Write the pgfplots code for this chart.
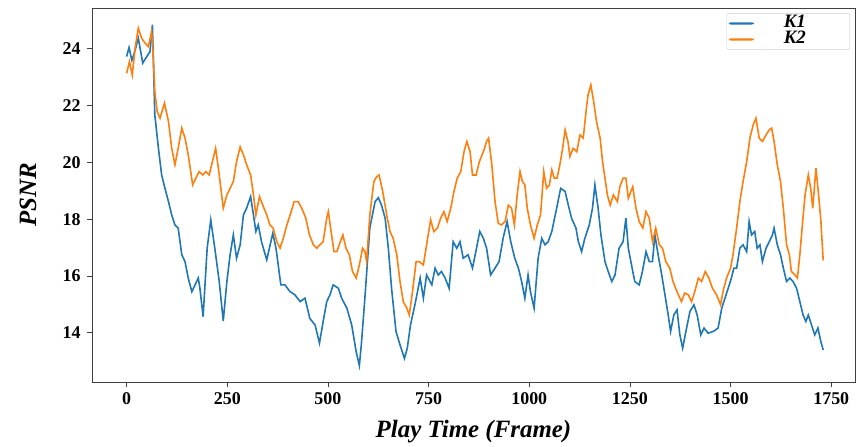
\documentclass[border=0pt]{standalone}
\usepackage{fontspec}
\setmainfont{Liberation Serif}
\usepackage{pgfplots}
\pgfplotsset{compat=1.18}
\definecolor{tabblue}{HTML}{1F77B4}
\definecolor{taborange}{HTML}{FF7F0E}
\begin{document}
\begin{tikzpicture}
\begin{axis}[name=ax, scale only axis, width=763bp, height=374bp,
  xmin=-86, xmax=1809, ymin=12.27, ymax=25.44,
  xtick={0,250,...,1750}, ytick={14,16,...,24},
  tick align=outside, tick pos=left, major tick length=5bp,
  tick style={black!75, line width=0.8bp},
  axis line style={black!75, line width=0.8bp},
  /pgf/number format/assume math mode=true,
  /pgf/number format/1000 sep={},
  ticklabel style={font=\bfseries\fontsize{18}{18}\selectfont},
  xticklabel style={yshift=-2bp},
  yticklabel style={xshift=-3bp},
  xlabel={\textbf{\textit{Play Time (Frame)}}},
  xlabel style={font=\fontsize{25}{25}\selectfont, at={(rel axis cs:0.5,0)}, anchor=center, yshift=-50bp},
  ylabel={\textbf{\textit{PSNR}}},
  ylabel style={font=\fontsize{25}{25}\selectfont, at={(rel axis cs:0,0.5)}, anchor=center, yshift=64bp},
  legend style={at={(rel axis cs:0.9935,0.986)}, anchor=north east, draw=black!20, rounded corners=2bp,
    fill=white, inner sep=2bp, font=\bfseries\itshape\fontsize{19}{19}\selectfont,
    nodes={inner sep=2bp, text height=10bp, text depth=2bp}},
  legend image code/.code={\fill[#1, draw=none] (0bp,-1.1bp) rectangle (25bp,1.1bp);},
  legend cell align=left,
]
\addplot[tabblue, line width=1.6bp] coordinates {
(0,23.73)(6,24.05)(13,23.6)(20,23.9)(29,24.38)(40,23.5)(50,23.73)(58,23.9)(64,24.85)(70,21.68)(79,20.5)(87,19.56)(95,19.1)(104,18.62)(112,18.15)(120,17.8)(128,17.69)(137,16.75)(145,16.51)(153,15.93)(162,15.45)(170,15.69)(178,15.93)(182,15.57)(190,14.57)(200,16.98)(209,17.98)(219,16.98)(230,15.81)(240,14.42)(249,15.81)(257,16.75)(265,17.45)(273,16.63)(282,17.1)(290,18.15)(298,18.39)(308,18.8)(315,18.15)(321,17.57)(327,17.8)(335,17.21)(348,16.57)(363,17.51)(371,16.98)(383,15.69)(393,15.69)(406,15.45)(418,15.34)(431,15.1)(443,15.22)(455,14.51)(468,14.28)(479,13.64)(488,14.4)(497,15.1)(505,15.34)(513,15.69)(526,15.57)(534,15.22)(547,14.87)(559,14.28)(570,13.34)(578,12.85)(583,13.6)(592,15.28)(604,17.69)(617,18.62)(625,18.76)(633,18.5)(642,18.04)(650,16.98)(658,15.57)(669,14.05)(679,13.58)(690,13.1)(697,13.46)(705,14.28)(716,14.99)(729,15.93)(737,15.22)(745,16.04)(758,15.69)(766,16.28)(774,16.04)(782,16.16)(791,15.93)(801,15.57)(811,17.21)(820,16.98)(828,17.21)(836,16.63)(848,16.75)(859,16.28)(869,16.98)(877,17.57)(886,17.33)(894,16.98)(904,16.04)(915,16.28)(925,16.51)(935,17.33)(945,17.92)(954,17.21)(964,16.63)(973,16.28)(981,15.81)(989,15.22)(997,16.04)(1003,15.45)(1012,14.87)(1022,16.63)(1031,17.33)(1039,17.1)(1047,17.21)(1056,17.57)(1068,18.39)(1078,19.09)(1089,18.98)(1097,18.5)(1105,18.04)(1116,17.69)(1122,17.21)(1130,16.86)(1138,17.33)(1149,17.8)(1157,18.39)(1163,19.21)(1171,18.39)(1178,17.45)(1188,16.51)(1196,16.16)(1205,15.81)(1213,16.04)(1223,16.98)(1233,17.21)(1240,18.04)(1246,16.98)(1254,16.39)(1262,15.81)(1273,15.69)(1281,16.16)(1290,16.86)(1298,16.51)(1306,16.51)(1312,17.45)(1320,16.75)(1329,16.04)(1337,15.34)(1345,14.63)(1351,14.05)(1359,14.63)(1367,14.81)(1374,13.93)(1381,13.46)(1389,14.05)(1399,14.75)(1409,14.99)(1417,14.63)(1426,13.93)(1434,14.17)(1444,13.99)(1457,14.05)(1469,14.17)(1478,14.87)(1486,15.22)(1494,15.57)(1502,15.93)(1508,16.28)(1515,16.28)(1523,16.98)(1531,17.1)(1540,16.86)(1546,17.92)(1552,17.45)(1560,17.57)(1566,16.98)(1573,17.1)(1579,16.51)(1588,16.98)(1596,17.21)(1604,17.45)(1608,17.69)(1616,17.1)(1624,16.75)(1631,16.28)(1639,15.81)(1647,15.93)(1655,15.81)(1664,15.57)(1672,15.1)(1680,14.63)(1687,14.4)(1693,14.63)(1701,14.28)(1709,13.93)(1717,14.17)(1724,13.7)(1730,13.4)
};
\addlegendentry{\hspace*{28bp}K1\hspace*{40bp}}
\addplot[taborange, line width=1.6bp] coordinates {
(0,23.14)(7,23.55)(14,23.08)(21,24.02)(29,24.73)(37,24.38)(46,24.2)(54,24.08)(62,24.61)(66,23.79)(70,22.5)(76,21.79)(83,21.56)(94,22.09)(104,21.44)(112,20.5)(120,19.92)(128,20.5)(137,21.21)(145,20.86)(153,20.27)(164,19.21)(172,19.45)(180,19.68)(189,19.56)(197,19.68)(205,19.56)(213,20.03)(221,20.5)(229,19.68)(234,19.09)(240,18.39)(249,18.86)(257,19.09)(265,19.33)(273,20.03)(282,20.55)(290,20.27)(298,19.92)(308,19.56)(315,18.86)(321,18.15)(330,18.8)(338,18.5)(348,18.15)(356,17.8)(364,17.69)(373,17.21)(381,16.98)(389,17.33)(398,17.8)(406,18.15)(416,18.62)(426,18.62)(435,18.39)(445,18.04)(454,17.45)(464,17.1)(472,16.98)(480,17.1)(488,17.21)(497,18.04)(501,18.27)(509,17.45)(515,16.86)(522,16.86)(528,17.1)(537,17.45)(545,16.98)(553,16.75)(561,16.16)(570,15.93)(578,16.39)(586,16.98)(592,16.86)(596,16.51)(604,18.15)(614,19.33)(621,19.5)(627,19.56)(636,18.98)(646,18.15)(654,17.57)(662,17.33)(671,16.75)(679,15.81)(687,15.1)(696,14.87)(702,14.63)(710,15.45)(719,16.51)(727,16.51)(737,16.39)(745,17.1)(755,17.98)(763,17.57)(772,17.69)(780,18.04)(788,18.27)(796,17.92)(805,18.39)(813,18.98)(821,19.45)(830,19.68)(838,20.38)(845,20.74)(853,20.38)(859,19.56)(868,19.56)(876,20.03)(886,20.38)(894,20.74)(899,20.86)(907,19.92)(915,18.62)(923,17.86)(931,17.8)(940,17.92)(948,18.5)(956,18.39)(963,17.8)(970,18.86)(977,19.68)(983,19.33)(989,19.21)(995,18.39)(1003,17.8)(1012,17.33)(1020,17.8)(1028,18.15)(1036,19.68)(1043,19.09)(1050,19.21)(1056,19.74)(1062,19.45)(1069,19.45)(1076,19.92)(1083,20.5)(1089,21.15)(1096,20.74)(1101,20.21)(1109,20.5)(1118,20.38)(1126,20.97)(1134,20.86)(1141,21.79)(1146,22.38)(1153,22.73)(1160,22.14)(1167,21.44)(1176,20.86)(1182,20.03)(1188,19.45)(1194,18.86)(1201,18.5)(1209,18.86)(1219,18.62)(1225,19.15)(1233,19.45)(1240,19.45)(1246,18.74)(1257,19.15)(1265,18.39)(1273,17.92)(1282,17.69)(1290,18.27)(1298,18.04)(1306,17.21)(1314,17.69)(1323,17.1)(1331,16.98)(1339,16.51)(1349,16.28)(1357,15.81)(1367,15.45)(1378,15.1)(1386,15.4)(1395,15.34)(1403,15.1)(1411,15.45)(1420,15.93)(1428,15.81)(1437,16.16)(1446,15.93)(1455,15.57)(1465,15.34)(1475,14.99)(1483,15.57)(1490,15.93)(1500,16.28)(1506,16.75)(1515,17.69)(1523,18.62)(1531,19.33)(1540,20.03)(1548,20.86)(1556,21.32)(1563,21.56)(1571,20.86)(1579,20.74)(1588,20.97)(1596,21.15)(1602,21.21)(1608,20.74)(1616,19.92)(1624,19.33)(1631,18.39)(1639,17.1)(1646,16.75)(1651,16.16)(1660,16.04)(1666,15.93)(1672,16.75)(1679,17.92)(1685,18.86)(1693,19.56)(1699,19.09)(1704,18.39)(1712,19.8)(1717,19.09)(1724,18.0)(1730,16.55)
};
\addlegendentry{\hspace*{28bp}K2\hspace*{40bp}}
\end{axis}
\pgfresetboundingbox
\path ([xshift=-92bp,yshift=-65bp]ax.south west) rectangle ([xshift=2bp,yshift=8bp]ax.north east);
\end{tikzpicture}
\end{document}
